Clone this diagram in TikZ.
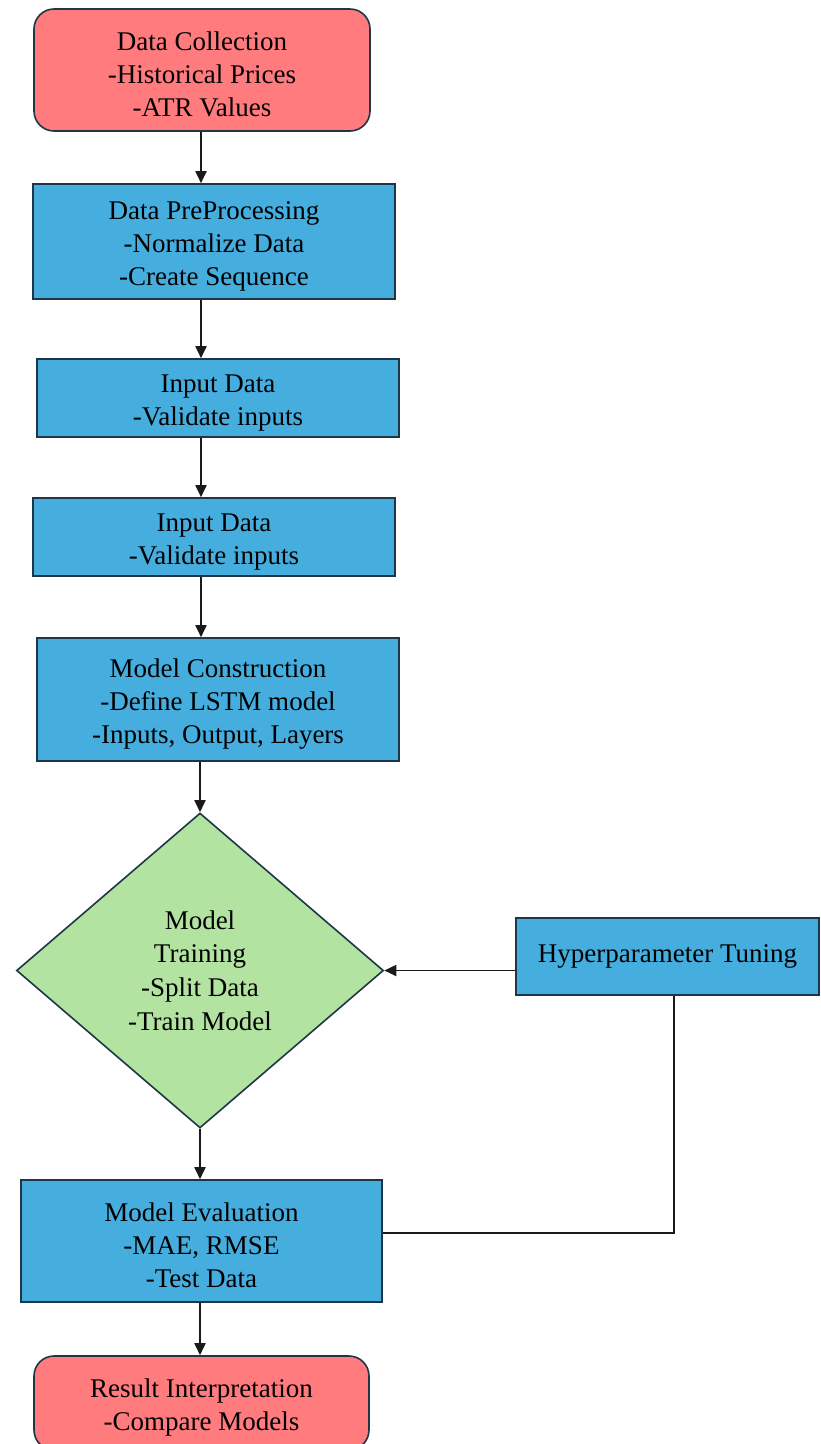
\documentclass[tikz,border=0pt]{standalone}
\usepackage{fontspec}
\setmainfont{Liberation Serif}
\usetikzlibrary{shapes.geometric,arrows.meta}
\definecolor{pinkc}{HTML}{FF7B7E}
\definecolor{bluec}{HTML}{45AEDF}
\definecolor{greenc}{HTML}{B3E3A1}
\definecolor{edgec}{HTML}{1E3646}
\definecolor{linec}{HTML}{1A1A1A}
\newcommand{\toplift}{\rule{0pt}{27pt}}
\begin{document}
\begin{tikzpicture}[x=1pt,y=-1pt,
  base/.style={draw=edgec, line width=1.6pt, align=center, inner sep=0pt,
    font=\fontsize{27}{33}\selectfont},
  termbox/.style={base, fill=pinkc, rounded corners=20pt},
  procbox/.style={base, fill=bluec},
  decbox/.style={base, fill=greenc, diamond, aspect=1.165},
  flow/.style={draw=linec, line width=1.8pt, -{Triangle[length=12pt,width=11pt]}},
  plain/.style={draw=linec, line width=1.8pt}]
\useasboundingbox (0,0) rectangle (820,1444);
\node[termbox, minimum width=336pt, minimum height=122pt] (dc) at (202,70)
  {\toplift Data Collection\\-Historical Prices\\-ATR Values};
\node[procbox, minimum width=362pt, minimum height=115pt] (pp) at (214,241.5)
  {\toplift Data PreProcessing\\-Normalize Data\\-Create Sequence};
\node[procbox, minimum width=362pt, minimum height=78pt] (in1) at (218,398)
  {\toplift Input Data\\-Validate inputs};
\node[procbox, minimum width=362pt, minimum height=78pt] (in2) at (214,537)
  {\toplift Input Data\\-Validate inputs};
\node[procbox, minimum width=362pt, minimum height=123pt] (mc) at (218,699.5)
  {\toplift Model Construction\\-Define LSTM model\\-Inputs, Output, Layers};
\node[decbox, minimum width=367pt, minimum height=315pt, font=\fontsize{27}{33.6}\selectfont] (mt) at (200,970.5)
  {Model\\Training\\-Split Data\\-Train Model};
\node[procbox, minimum width=303pt, minimum height=77pt] (hp) at (667.5,956.5)
  {Hyperparameter Tuning};
\node[procbox, minimum width=361pt, minimum height=122pt] (me) at (201.5,1241)
  {\toplift Model Evaluation\\-MAE, RMSE\\-Test Data};
\node[termbox, minimum width=335pt, minimum height=94pt] (ri) at (201.5,1403)
  {\toplift Result Interpretation\\-Compare Models};
\coordinate (ax) at (201,0);
\coordinate (lp) at (674,1233);
\draw[flow] (dc.south -| ax) -- (pp.north -| ax);
\draw[flow] (pp.south -| ax) -- (in1.north -| ax);
\draw[flow] (in1.south -| ax) -- (in2.north -| ax);
\draw[flow] (in2.south -| ax) -- (mc.north -| ax);
\draw[flow] (mc.south -| mt.north) -- (mt.north);
\draw[flow] (mt.south) -- (me.north -| mt.south);
\draw[flow] (me.south -| mt.south) -- (ri.north -| mt.south);
\draw[flow] (hp.west |- mt.east) -- (mt.east);
\draw[plain] (me.east |- lp) -- (lp) -- (hp.south -| lp);
\end{tikzpicture}
\end{document}
